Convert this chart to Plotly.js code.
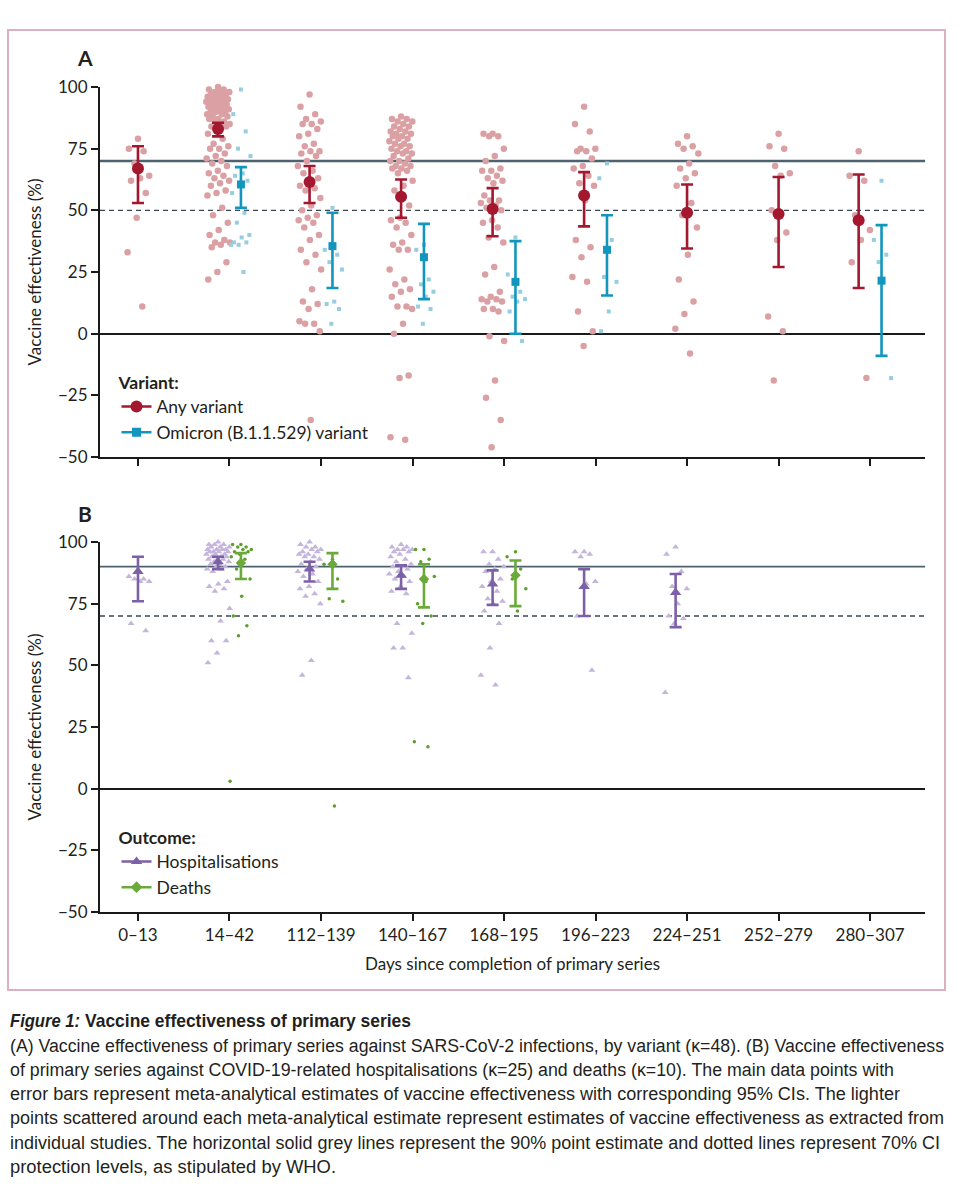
<!DOCTYPE html>
<html><head><meta charset="utf-8">
<script src="https://cdn.plot.ly/plotly-3.0.1.min.js"></script>
<style>
body{margin:0;background:#fff;width:968px;height:1200px;position:relative;overflow:hidden}
#frame{position:absolute;left:7px;top:29px;width:935px;height:958px;border:2px solid #dcb1bf;pointer-events:none}
#chart{position:absolute;left:0;top:0;width:968px;height:1000px}
#cap{position:absolute;left:0;top:1000px}
#cap text{font-family:"Liberation Sans",Arial,sans-serif;fill:#231f20;font-size:18px}
</style></head>
<body>
<div id="chart"></div>
<div id="frame"></div>
<svg id="cap" width="968" height="200" xmlns="http://www.w3.org/2000/svg">
<text x="10" y="27" textLength="70" lengthAdjust="spacingAndGlyphs" font-weight="bold" font-style="italic" style="font-size:18.5px">Figure 1:</text>
<text x="85" y="27" textLength="326" lengthAdjust="spacingAndGlyphs" font-weight="bold" style="font-size:18.5px">Vaccine effectiveness of primary series</text>
<text x="10" y="51.5" textLength="934" lengthAdjust="spacingAndGlyphs">(A) Vaccine effectiveness of primary series against SARS-CoV-2 infections, by variant (κ=48). (B) Vaccine effectiveness</text>
<text x="10" y="75.5" textLength="884" lengthAdjust="spacingAndGlyphs">of primary series against COVID-19-related hospitalisations (κ=25) and deaths (κ=10). The main data points with</text>
<text x="10" y="99.5" textLength="890" lengthAdjust="spacingAndGlyphs">error bars represent meta-analytical estimates of vaccine effectiveness with corresponding 95% CIs. The lighter</text>
<text x="10" y="124" textLength="934" lengthAdjust="spacingAndGlyphs">points scattered around each meta-analytical estimate represent estimates of vaccine effectiveness as extracted from</text>
<text x="10" y="148.5" textLength="930" lengthAdjust="spacingAndGlyphs">individual studies. The horizontal solid grey lines represent the 90% point estimate and dotted lines represent 70% CI</text>
<text x="10" y="172.5" textLength="326" lengthAdjust="spacingAndGlyphs">protection levels, as stipulated by WHO.</text>
</svg>
<script>
// ---------------- DATA ----------------
const categories = ["0–13","14–42","112–139","140–167","168–195","196–223","224–251","252–279","280–307"];
const yTicks = [-50, -25, 0, 25, 50, 75, 100];

// Panel A: infections, pooled estimates with 95% CI
const anyVariantVE = [67, 83, 61.5, 55.5, 50.5, 56, 49, 48.5, 46];
const anyVariantLo = [53, 80, 53, 47, 39.5, 43.5, 34.5, 27, 18.5];
const anyVariantHi = [76, 85.5, 68, 62.5, 59, 65.5, 60.5, 63.5, 64.5];
const omicronVE = [null, 60.5, 35.5, 31, 21, 34, null, null, 21.5];
const omicronLo = [null, 51, 18.5, 14, 0, 15.5, null, null, -9];
const omicronHi = [null, 67.5, 49, 44.5, 37.5, 48, null, null, 44];

// Panel A: individual study estimates
const anyVariantStudies = [
  [79, 75, 74, 69, 64, 63, 62, 57, 47, 33, 11],
  [100, 99, 99, 98, 98, 98, 97, 97, 97, 96, 96, 96, 95, 95, 95, 94, 94, 94, 93, 93, 93, 92, 92, 92, 91, 91, 91, 90, 90, 90, 89, 89, 88, 88, 87, 87, 86, 86, 85, 85, 84, 84, 82, 81, 79, 77, 76, 75, 75, 73, 72, 71, 70, 69, 68, 66, 65, 64, 63, 62, 61, 60, 58, 57, 56, 51, 48, 45, 42, 40, 38, 37, 37, 36, 35, 29, 25, 22],
  [97, 92, 89, 87, 86, 85, 85, 83, 81, 80, 77, 76, 74, 74, 73, 72, 70, 68, 66, 65, 63, 62, 60, 59, 58, 55, 52, 50, 48, 47, 46, 45, 43, 40, 38, 34, 32, 29, 26, 18, 13, 12, 10, 5, 4, 4, 1, -35],
  [88, 87, 87, 86, 86, 85, 84, 84, 83, 82, 82, 81, 81, 80, 80, 79, 79, 78, 77, 77, 76, 76, 75, 74, 74, 73, 73, 72, 71, 70, 70, 69, 68, 68, 67, 67, 66, 65, 62, 60, 58, 52, 47, 46, 45, 43, 40, 37, 36, 34, 34, 26, 22, 20, 18, 17, 15, 11, 11, 10, 4, 0, -17, -18, -42, -43],
  [81, 81, 80, 80, 75, 72, 70, 67, 66, 66, 64, 63, 62, 61, 56, 54, 54, 53, 52, 51, 50, 46, 45, 43, 39, 37, 27, 24, 17, 15, 14, 14, 13, 13, 10, 10, 9, -1, -3, -19, -26, -35, -46],
  [92, 85, 82, 75, 75, 74, 74, 71, 68, 67, 64, 61, 60, 54, 38, 35, 31, 23, 21, 9, 1, -5],
  [80, 77, 76, 75, 73, 69, 67, 65, 63, 60, 53, 48, 43, 32, 22, 13, 8, 2, -8],
  [81, 76, 75, 68, 65, 64, 50, 41, 38, 7, 1, -19],
  [74, 64, 62, 48, 42, 38, 29, -18]
];
const omicronStudies = [
  [],
  [99, 89, 82, 75, 72, 65, 64, 62, 60, 57, 49, 45, 40, 39, 37, 37, 36, 36, 25],
  [51, 34, 32, 29, 26, 13, 12, 10, 4],
  [36, 34, 22, 20, 17, 15, 11, 10, 4],
  [39, 24, 17, 15, 14, 13, 9, -3],
  [69, 63, 38, 23, 21, 9, 1],
  [],
  [],
  [62, 38, 32, 29, -18]
];

// Panel B: hospitalisations and deaths
const hospVE = [88, 92, 89, 86.5, 83, 82, 79.5, null, null];
const hospLo = [76, 89, 84, 81, 74.5, 70, 65.5, null, null];
const hospHi = [94, 94, 92, 90.5, 88.5, 89, 87, null, null];
const deathVE = [null, 91.5, 91, 85, 86.5, null, null, null, null];
const deathLo = [null, 85, 81, 73.5, 74, null, null, null, null];
const deathHi = [null, 95.5, 95.5, 91, 92.5, null, null, null, null];

const hospStudies = [
  [88, 86, 85, 85, 84, 84, 67, 64],
  [100, 99, 99, 99, 98, 98, 98, 97, 97, 97, 97, 96, 96, 96, 96, 95, 95, 95, 94, 94, 94, 93, 93, 93, 92, 92, 91, 91, 90, 90, 89, 89, 88, 84, 83, 82, 81, 80, 73, 68, 60, 60, 55, 51],
  [100, 99, 98, 98, 97, 97, 96, 96, 95, 95, 94, 94, 93, 92, 91, 90, 89, 88, 87, 86, 84, 82, 81, 79, 78, 75, 52, 46],
  [99, 98, 98, 97, 97, 97, 96, 96, 95, 94, 93, 92, 91, 90, 90, 89, 88, 87, 86, 85, 84, 82, 80, 79, 67, 63, 57, 57, 45],
  [96, 96, 93, 91, 90, 89, 88, 85, 84, 82, 80, 77, 76, 75, 72, 67, 57, 46, 42],
  [96, 96, 95, 94, 84, 83, 70, 48],
  [98, 95, 88, 82, 81, 75, 70, 69, 67, 39],
  [],
  []
];
const deathStudies = [
  [],
  [99, 99, 98, 98, 97, 97, 96, 96, 95, 94, 93, 89, 85, 78, 70, 66, 62, 3],
  [93, 91, 85, 77, 76, -7],
  [97, 97, 93, 92, 86, 84, 75, 70, 67, 19, 17],
  [96, 94, 89, 85, 81, 72],
  [], [], [], []
];

// WHO reference levels drawn in each panel
const refLevelsA = {solid: 70, dashed: 50};
const refLevelsB = {solid: 90, dashed: 70};

// ---------------- DRAWING ----------------
const FONT = 'Lato, "Noto Sans", sans-serif';
const INK = '#231f20';
const D = 0.125; // side-by-side dodge (category units)
const idx = categories.map((_, i) => i);

const dodgeAny = categories.map((_, c) => omicronVE[c] != null ? -D : 0);
const dodgeOmi = categories.map(() => D);
const dodgeHosp = categories.map((_, c) => c === 0 ? 0 : -D);
const dodgeDeath = categories.map(() => D);

function jitter(i, w) {
  const f = (0.5 + i * 0.6180339887) % 1;
  return (f - 0.5) * 2 * w;
}

function studyTrace(groups, dodge, w, marker, xa, ya) {
  const xs = [], ys = [];
  groups.forEach((vals, c) => {
    vals.forEach((v, i) => { xs.push(c + dodge[c] + jitter(i, w)); ys.push(v); });
  });
  return {type: 'scatter', mode: 'markers', x: xs, y: ys, xaxis: xa, yaxis: ya,
    marker: marker, showlegend: false, hoverinfo: 'skip', cliponaxis: false};
}

function mainTrace(ve, lo, hi, dodge, color, symbol, size, xa, ya) {
  const xs = [], ys = [], ep = [], em = [];
  ve.forEach((v, c) => {
    if (v == null) return;
    xs.push(c + dodge[c]); ys.push(v); ep.push(hi[c] - v); em.push(v - lo[c]);
  });
  return {type: 'scatter', mode: 'markers', x: xs, y: ys, xaxis: xa, yaxis: ya,
    marker: {color: color, symbol: symbol, size: size},
    error_y: {type: 'data', symmetric: false, array: ep, arrayminus: em, color: color, thickness: 2.6, width: 6},
    showlegend: false, hoverinfo: 'skip', cliponaxis: false};
}

function legendTrace(name, color, symbol, size, leg) {
  return {type: 'scatter', mode: 'lines+markers', x: [null], y: [null], name: name,
    line: {color: color, width: 2.6}, marker: {color: color, symbol: symbol, size: size},
    legend: leg, xaxis: 'x', yaxis: 'y', hoverinfo: 'skip'};
}

const RED = '#a3182f', RED_L = '#dba0a3';
const BLUE = '#1296bd', BLUE_L = '#96cde0';
const PURPLE = '#7d61a8', PURPLE_L = '#c4b5dc';
const GREEN = '#6aaa3b', GREEN_L = '#5c9f2f';

const traces = [
  studyTrace(anyVariantStudies, dodgeAny, 0.13, {color: RED_L, size: 6.5, symbol: 'circle'}, 'x', 'y'),
  studyTrace(omicronStudies, dodgeOmi, 0.11, {color: BLUE_L, size: 4, symbol: 'square'}, 'x', 'y'),
  studyTrace(hospStudies, dodgeHosp, 0.13, {color: PURPLE_L, size: 6, symbol: 'triangle-up'}, 'x2', 'y2'),
  studyTrace(deathStudies, dodgeDeath, 0.12, {color: GREEN_L, size: 3.5, symbol: 'circle'}, 'x2', 'y2'),
  mainTrace(anyVariantVE, anyVariantLo, anyVariantHi, dodgeAny, RED, 'circle', 12, 'x', 'y'),
  mainTrace(omicronVE, omicronLo, omicronHi, dodgeOmi, BLUE, 'square', 8, 'x', 'y'),
  mainTrace(hospVE, hospLo, hospHi, dodgeHosp, PURPLE, 'triangle-up', 10, 'x2', 'y2'),
  mainTrace(deathVE, deathLo, deathHi, dodgeDeath, GREEN, 'diamond', 8, 'x2', 'y2'),
  legendTrace('Any variant', RED, 'circle', 12, 'legend'),
  legendTrace('Omicron (B.1.1.529) variant', BLUE, 'square', 9, 'legend'),
  legendTrace('Hospitalisations', PURPLE, 'triangle-up', 10, 'legend2'),
  legendTrace('Deaths', GREEN, 'diamond', 9, 'legend2')
];

const axisCommon = {
  showline: true, linewidth: 2, linecolor: '#1a1a1a', showgrid: false,
  ticks: 'outside', ticklen: 7, tickwidth: 2, tickcolor: '#1a1a1a',
  tickfont: {family: FONT, size: 17, color: INK}, fixedrange: true
};
const xCommon = Object.assign({}, axisCommon, {range: [-0.415, 8.6], tickvals: idx, ticktext: categories, zeroline: false});
const yCommon = Object.assign({}, axisCommon, {range: [-50, 100], tickvals: yTicks, zeroline: true, zerolinecolor: '#1a1a1a', zerolinewidth: 2,
  title: {text: 'Vaccine effectiveness (%)', standoff: 12, font: {family: FONT, size: 17, color: INK}}});

function refShapes(levels, xa, ya, wSolid) {
  return [
    {type: 'line', xref: xa + ' domain', yref: ya, x0: 0, x1: 1, y0: levels.solid, y1: levels.solid, line: {color: '#4d626e', width: wSolid}, layer: 'below'},
    {type: 'line', xref: xa + ' domain', yref: ya, x0: 0, x1: 1, y0: levels.dashed, y1: levels.dashed, line: {color: '#3b4852', width: 1.4, dash: '5px,4px'}, layer: 'below'}
  ];
}

const legendCommon = {xanchor: 'left', yanchor: 'top', bgcolor: 'rgba(0,0,0,0)', borderwidth: 0,
  font: {family: FONT, size: 17.5, color: INK}, itemclick: false, itemdoubleclick: false, tracegroupgap: 0};

const layout = {
  width: 968, height: 1000,
  margin: {l: 100, r: 43, t: 87, b: 88},
  paper_bgcolor: 'rgba(0,0,0,0)', plot_bgcolor: 'rgba(0,0,0,0)',
  font: {family: FONT, size: 17, color: INK},
  hovermode: false,
  showlegend: true,
  xaxis: Object.assign({}, xCommon, {domain: [0, 1], anchor: 'y', showticklabels: false}),
  yaxis: Object.assign({}, yCommon, {domain: [0.5515, 1], anchor: 'x'}),
  xaxis2: Object.assign({}, xCommon, {domain: [0, 1], anchor: 'y2', showticklabels: true,
    title: {text: 'Days since completion of primary series', standoff: 14, font: {family: FONT, size: 17, color: INK}}}),
  yaxis2: Object.assign({}, yCommon, {domain: [0, 0.4485], anchor: 'x2'}),
  legend: Object.assign({}, legendCommon, {x: 0.02, y: 0.662, title: {text: '<b>Variant:</b>', font: {family: FONT, size: 17.5, color: INK}}}),
  legend2: Object.assign({}, legendCommon, {x: 0.02, y: 0.1105, title: {text: '<b>Outcome:</b>', font: {family: FONT, size: 17.5, color: INK}}}),
  shapes: refShapes(refLevelsA, 'x', 'y', 2.6).concat(refShapes(refLevelsB, 'x2', 'y2', 1.6)),
  annotations: [
    {text: '<b>A</b>', xref: 'paper', yref: 'paper', x: -0.018, y: 1.036, xanchor: 'center', yanchor: 'middle', showarrow: false, font: {family: FONT, size: 21, color: INK}},
    {text: '<b>B</b>', xref: 'paper', yref: 'paper', x: -0.018, y: 0.4836, xanchor: 'center', yanchor: 'middle', showarrow: false, font: {family: FONT, size: 21, color: INK}}
  ]
};

Plotly.newPlot('chart', traces, layout, {displayModeBar: false, staticPlot: true});
</script>
</body></html>
